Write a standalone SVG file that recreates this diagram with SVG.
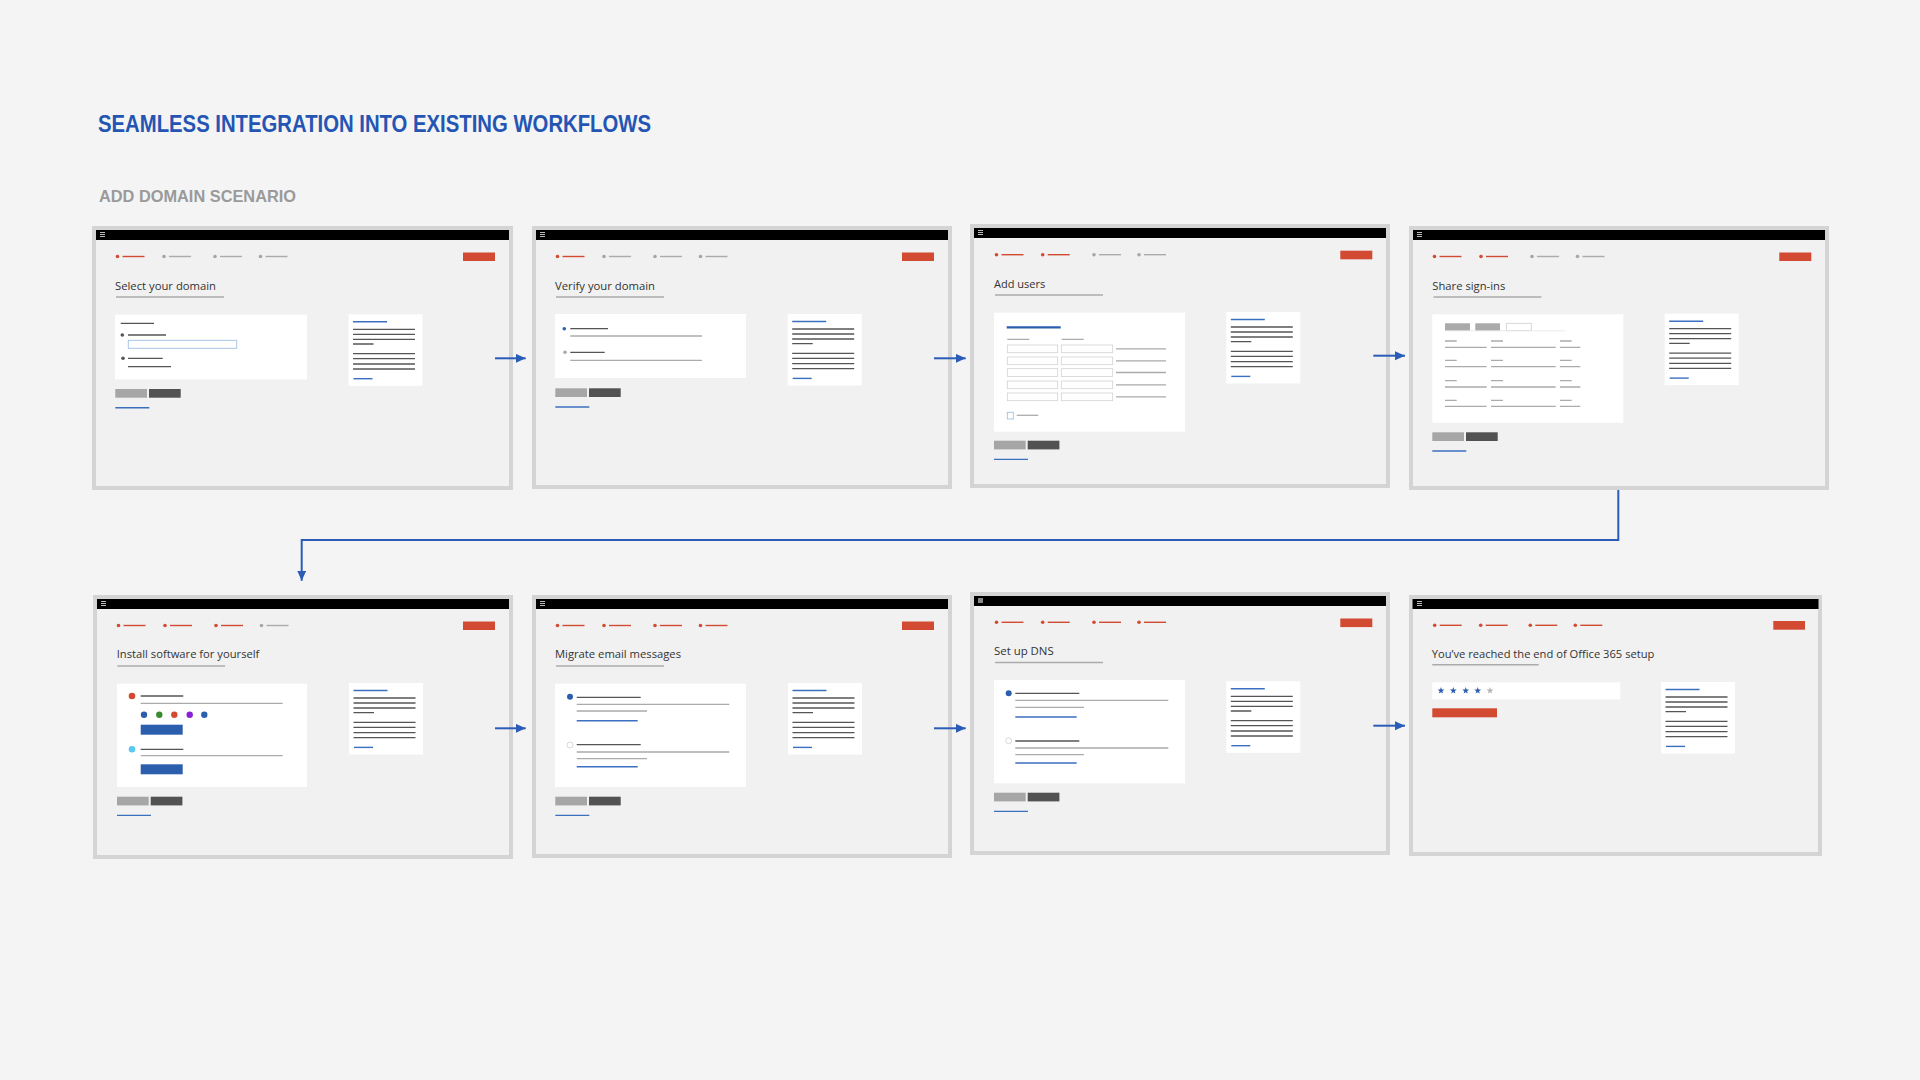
<svg xmlns="http://www.w3.org/2000/svg" xmlns:xlink="http://www.w3.org/1999/xlink" width="1920" height="1080" viewBox="0 0 1920 1080">
<style>
.frame{fill:#f1f1f1;stroke:#d4d4d4;stroke-width:4}
.bar{fill:#000}
.card{fill:#fff}
.dk{stroke:#555;stroke-width:1.3;fill:none}
.gy{stroke:#ababab;stroke-width:1.3;fill:none}
.bl{stroke:#3b6fc0;stroke-width:1.4;fill:none}
.red{fill:#d24a32}
.sr{stroke:#d24a32;stroke-width:1.4}
.sg{stroke:#ababab;stroke-width:1.4}
.ttl{font-family:"Open Sans","Noto Sans",sans-serif;font-size:11.5px;fill:#333}
.ul{stroke:#ababab;stroke-width:1.5}
.b1{fill:#a6a6a6}
.b2{fill:#525252}
.box{fill:#fff;stroke:#d2d2d2;stroke-width:0.8}
.conn{fill:none;stroke:#2a5cb8;stroke-width:2}
</style>
<defs>
<marker id="ah" markerUnits="userSpaceOnUse" markerWidth="10" markerHeight="10" refX="10" refY="4.5" orient="auto">
<path d="M0,0 L10,4.5 L0,9 z" fill="#2a5cb8"/>
</marker>
<g id="ham"><rect x="8" y="6" width="5" height="1" fill="#bbb"/><rect x="8" y="8" width="5" height="1" fill="#bbb"/><rect x="8" y="10" width="5" height="1" fill="#bbb"/></g>
<g id="str"><circle r="1.8" fill="#d24a32"/><path class="sr" d="M5,0H27"/></g>
<g id="stg"><circle r="1.8" fill="#a6a6a6"/><path class="sg" d="M5,0H27"/></g>
<g id="help">
<rect class="card" width="74" height="71.5"/>
<path class="bl" d="M4.5,7.5H38.5"/>
<path class="dk" d="M4.5,15H66.5M4.5,20H66.5M4.5,25H66.5M4.5,29.7H25M4.5,39.4H66.5M4.5,44.4H66.5M4.5,49.7H66.5M4.5,54.7H66.5"/>
<path class="bl" d="M5,64.4H24"/>
</g>
<g id="btns">
<rect class="b1" width="31.7" height="8.7"/>
<rect class="b2" x="33.7" width="31.7" height="8.7"/>
<path class="bl" d="M0,18.7H34"/>
</g>
<path id="star" d="M0,-3.6 L0.846,-1.165 L3.424,-1.112 L1.369,0.445 L2.116,2.912 L0,1.44 L-2.116,2.912 L-1.369,0.445 L-3.424,-1.112 L-0.846,-1.165 z"/>
</defs>

<rect width="1920" height="1080" fill="#f4f4f4"/>

<text x="98" y="131.5" font-family="'Liberation Sans',Arial,sans-serif" font-weight="bold" font-size="23" fill="#2455b3" textLength="553" lengthAdjust="spacingAndGlyphs">SEAMLESS INTEGRATION INTO EXISTING WORKFLOWS</text>
<text x="99" y="202" font-family="'Liberation Sans',Arial,sans-serif" font-weight="bold" font-size="16.5" fill="#9a9a9a" textLength="197" lengthAdjust="spacingAndGlyphs">ADD DOMAIN SCENARIO</text>

<!-- Panel 1 -->
<g id="p1-select-domain" transform="translate(92,226)">
<rect class="frame" x="2" y="2" width="417" height="260"/>
<rect class="bar" x="4" y="4" width="413" height="10"/>
<use href="#ham"/>
<use href="#str" x="25.5" y="30.5"/><use href="#stg" x="72" y="30.5"/><use href="#stg" x="123" y="30.5"/><use href="#stg" x="168.5" y="30.5"/>
<rect class="red" x="371" y="26.5" width="32" height="8.5"/>
<text class="ttl" x="23" y="64" textLength="101" lengthAdjust="spacingAndGlyphs">Select your domain</text>
<path class="ul" d="M24,71H132"/>
<rect class="card" x="23" y="88.7" width="192" height="64.6"/>
<path class="dk" d="M28.7,97.3H62"/>
<circle cx="30.3" cy="109" r="1.8" fill="#555"/><path class="dk" d="M36,109H74"/>
<rect x="36.3" y="114.3" width="108.4" height="8" fill="#fff" stroke="#9fc2e8" stroke-width="0.9"/>
<circle cx="31" cy="132.3" r="1.8" fill="#555"/><path class="dk" d="M36,132.3H70.7M36,140.7H79"/>
<use href="#btns" x="23.3" y="163"/>
<use href="#help" x="256.5" y="88.3"/>
</g>

<!-- Panel 2 -->
<g id="p2-verify-domain" transform="translate(532,226)">
<rect class="frame" x="2" y="2" width="416" height="259"/>
<rect class="bar" x="4" y="4" width="412" height="10"/>
<use href="#ham"/>
<use href="#str" x="25.5" y="30.5"/><use href="#stg" x="72" y="30.5"/><use href="#stg" x="123" y="30.5"/><use href="#stg" x="168.5" y="30.5"/>
<rect class="red" x="370" y="26.5" width="32" height="8.5"/>
<text class="ttl" x="23" y="64" textLength="100" lengthAdjust="spacingAndGlyphs">Verify your domain</text>
<path class="ul" d="M24,71H132"/>
<rect class="card" x="23" y="88" width="191" height="64"/>
<circle cx="32.3" cy="102.7" r="1.8" fill="#2b5fad"/><path class="dk" d="M38.3,102.7H76"/><path class="gy" d="M38.3,110H170"/>
<circle cx="33" cy="126.3" r="1.8" fill="#aaa"/><path class="dk" d="M38.3,126.3H72.7"/><path class="gy" d="M38.3,134.3H170"/>
<use href="#btns" x="23.3" y="162.3"/>
<use href="#help" x="255.7" y="88"/>
</g>

<!-- Panel 3 -->
<g id="p3-add-users" transform="translate(970,224)">
<rect class="frame" x="2" y="2" width="416" height="260"/>
<rect class="bar" x="4" y="4" width="412" height="10"/>
<use href="#ham"/>
<use href="#str" x="26.5" y="30.7"/><use href="#str" x="72.7" y="30.7"/><use href="#stg" x="124" y="30.7"/><use href="#stg" x="169" y="30.7"/>
<rect class="red" x="370.3" y="26.7" width="32" height="8.6"/>
<text class="ttl" x="24" y="63.7" textLength="51.3" lengthAdjust="spacingAndGlyphs">Add users</text>
<path class="ul" d="M25,71H133"/>
<rect class="card" x="24" y="88.7" width="191" height="119"/>
<path d="M36.7,103.3H90.7" stroke="#2b5fad" stroke-width="2.2"/>
<path class="gy" d="M37.3,115.3H59.3M91.7,115.3H113.7"/>
<rect class="box" x="37.3" y="121" width="50.4" height="7.7"/><rect class="box" x="91.3" y="121" width="51.4" height="7.7"/>
<rect class="box" x="37.3" y="133" width="50.4" height="7.7"/><rect class="box" x="91.3" y="133" width="51.4" height="7.7"/>
<rect class="box" x="37.3" y="144.7" width="50.4" height="7.7"/><rect class="box" x="91.3" y="144.7" width="51.4" height="7.7"/>
<rect class="box" x="37.3" y="157" width="50.4" height="7.7"/><rect class="box" x="91.3" y="157" width="51.4" height="7.7"/>
<rect class="box" x="37.3" y="169" width="50.4" height="7.7"/><rect class="box" x="91.3" y="169" width="51.4" height="7.7"/>
<path class="gy" d="M146,124.8H196M146,136.8H196M146,148.5H196M146,160.8H196M146,172.8H196"/>
<rect x="37.3" y="188.3" width="6" height="6.7" fill="#fff" stroke="#9fc2e8" stroke-width="0.9"/>
<path class="gy" d="M46.7,191.3H68.3"/>
<use href="#btns" x="24" y="216.7"/>
<use href="#help" x="256.3" y="88"/>
</g>

<!-- Panel 4 -->
<g id="p4-share-signins" transform="translate(1409,226)">
<rect class="frame" x="2" y="2" width="416" height="260"/>
<rect class="bar" x="4" y="4" width="412" height="10"/>
<use href="#ham"/>
<use href="#str" x="25.5" y="30.5"/><use href="#str" x="72" y="30.5"/><use href="#stg" x="123" y="30.5"/><use href="#stg" x="168.5" y="30.5"/>
<rect class="red" x="370.3" y="26.5" width="32" height="8.5"/>
<text class="ttl" x="23.3" y="64" textLength="73" lengthAdjust="spacingAndGlyphs">Share sign-ins</text>
<path class="ul" d="M24.5,71H132.5"/>
<rect class="card" x="23.3" y="88.3" width="191" height="108.4"/>
<rect x="36" y="97.3" width="25" height="7.4" fill="#aaa"/>
<rect x="66.3" y="97.3" width="24.7" height="7.4" fill="#aaa"/>
<rect x="97.3" y="97.3" width="25" height="7.4" fill="#fff" stroke="#cfcfcf" stroke-width="0.8"/>
<path d="M36,104.8H155.7" stroke="#e6e6e6" stroke-width="0.8"/>
<path class="gy" d="M36,115H47.7M82,115H94M151,115H162.7M36,121.3H77.7M82,121.3H146.7M151,121.3H171.3"/>
<path class="gy" d="M36,134.3H47.7M82,134.3H94M151,134.3H162.7M36,140.7H77.7M82,140.7H146.7M151,140.7H171.3"/>
<path class="gy" d="M36,154.7H47.7M82,154.7H94M151,154.7H162.7M36,161H77.7M82,161H146.7M151,161H171.3"/>
<path class="gy" d="M36,174.3H47.7M82,174.3H94M151,174.3H162.7M36,180.3H77.7M82,180.3H146.7M151,180.3H171.3"/>
<use href="#btns" x="23.3" y="206.3"/>
<use href="#help" x="255.7" y="87.7"/>
</g>

<!-- Panel 5 -->
<g id="p5-install-software" transform="translate(93,595)">
<rect class="frame" x="2" y="2" width="416" height="260"/>
<rect class="bar" x="4" y="4" width="412" height="10"/>
<use href="#ham"/>
<use href="#str" x="25.5" y="30.5"/><use href="#str" x="72" y="30.5"/><use href="#str" x="123" y="30.5"/><use href="#stg" x="168.5" y="30.5"/>
<rect class="red" x="370" y="26.5" width="32" height="8.5"/>
<text class="ttl" x="23.7" y="63.3" textLength="142.7" lengthAdjust="spacingAndGlyphs">Install software for yourself</text>
<path class="ul" d="M24.5,71H132"/>
<rect class="card" x="24" y="88.7" width="190" height="103.3"/>
<circle cx="39" cy="101" r="3.3" fill="#d24a32"/><path class="dk" d="M47.7,101H90.3"/><path class="gy" d="M47.7,108.3H189.7"/>
<circle cx="51" cy="119.7" r="3.2" fill="#2b5fad"/>
<circle cx="66.3" cy="119.7" r="3.2" fill="#3a8a2e"/>
<circle cx="81.3" cy="119.7" r="3.2" fill="#d24a32"/>
<circle cx="96.7" cy="119.7" r="3.2" fill="#8a1fd6"/>
<circle cx="111.3" cy="119.7" r="3.2" fill="#2b5fad"/>
<rect x="47.7" y="129.7" width="42" height="10" fill="#2b5fad"/>
<circle cx="39" cy="154.3" r="3.3" fill="#5bc8ef"/><path class="dk" d="M47.7,154.3H90.3"/><path class="gy" d="M47.7,160.7H189.7"/>
<rect x="47.7" y="169.3" width="42" height="10" fill="#2b5fad"/>
<use href="#btns" x="24" y="201.7"/>
<use href="#help" x="256" y="88"/>
</g>

<!-- Panel 6 -->
<g id="p6-migrate-email" transform="translate(532,595)">
<rect class="frame" x="2" y="2" width="416" height="259"/>
<rect class="bar" x="4" y="4" width="412" height="10"/>
<use href="#ham"/>
<use href="#str" x="25.5" y="30.5"/><use href="#str" x="72" y="30.5"/><use href="#str" x="123" y="30.5"/><use href="#str" x="168.5" y="30.5"/>
<rect class="red" x="370" y="26.5" width="32" height="8.5"/>
<text class="ttl" x="23" y="63.3" textLength="126" lengthAdjust="spacingAndGlyphs">Migrate email messages</text>
<path class="ul" d="M24,71H132"/>
<rect class="card" x="23" y="88.7" width="191" height="103.3"/>
<circle cx="38" cy="101.7" r="3" fill="#2b5fad"/>
<path class="dk" d="M44.7,102.3H108.7M44.7,149.7H108.7"/>
<path class="gy" d="M44.7,109.3H197.3M44.7,116H115M44.7,157H197.3M44.7,163.7H115"/>
<path class="bl" d="M44.7,125.7H105.7M44.7,171.7H105.7"/>
<circle cx="38" cy="150" r="3" fill="#fff" stroke="#cfcfcf" stroke-width="0.8"/>
<use href="#btns" x="23.3" y="201.7"/>
<use href="#help" x="256" y="88"/>
</g>

<!-- Panel 7 -->
<g id="p7-setup-dns" transform="translate(970,592)">
<rect class="frame" x="2" y="2" width="416" height="259"/>
<rect class="bar" x="4" y="4" width="412" height="10"/>
<rect x="8" y="6" width="5" height="5" fill="#888"/>
<use href="#str" x="26.5" y="30.3"/><use href="#str" x="72.7" y="30.3"/><use href="#str" x="124" y="30.3"/><use href="#str" x="169" y="30.3"/>
<rect class="red" x="370.3" y="26.5" width="32" height="8.6"/>
<text class="ttl" x="24" y="63" textLength="59.7" lengthAdjust="spacingAndGlyphs">Set up DNS</text>
<path class="ul" d="M25,70.5H133"/>
<rect class="card" x="24" y="88" width="191" height="103.3"/>
<circle cx="38.7" cy="101.3" r="3" fill="#2b5fad"/>
<path class="dk" d="M45.3,101.3H109.3M45.3,149H109.3"/>
<path class="gy" d="M45.3,108.3H198.3M45.3,115.3H114M45.3,156H198.3M45.3,162.7H114"/>
<path class="bl" d="M45.3,125H106.7M45.3,171H106.7"/>
<circle cx="38.7" cy="148.7" r="3" fill="#fff" stroke="#cfcfcf" stroke-width="0.8"/>
<use href="#btns" x="24" y="200.7"/>
<use href="#help" x="256.3" y="89.3"/>
</g>

<!-- Panel 8 -->
<g id="p8-end-of-setup" transform="translate(1409,595)">
<rect class="frame" x="2" y="2" width="409" height="257"/>
<rect class="bar" x="3.5" y="4" width="406" height="10"/>
<use href="#ham"/>
<use href="#str" x="25.7" y="30.3"/><use href="#str" x="71.7" y="30.3"/><use href="#str" x="121.3" y="30.3"/><use href="#str" x="166.3" y="30.3"/>
<rect class="red" x="364.3" y="26" width="31.7" height="8.7"/>
<text class="ttl" x="22.7" y="62.7" textLength="222.7" lengthAdjust="spacingAndGlyphs">You’ve reached the end of Office 365 setup</text>
<path class="ul" d="M23.3,69.7H129.7"/>
<rect class="card" x="23.3" y="87.3" width="188" height="17"/>
<use href="#star" x="32" y="95.7" fill="#2b5fad"/>
<use href="#star" x="44.3" y="95.7" fill="#2b5fad"/>
<use href="#star" x="56.7" y="95.7" fill="#2b5fad"/>
<use href="#star" x="68.7" y="95.7" fill="#2b5fad"/>
<use href="#star" x="81" y="95.7" fill="#b5b5b5"/>
<rect class="red" x="23.3" y="113.3" width="64.7" height="9"/>
<use href="#help" x="252" y="87"/>
</g>

<g id="connectors">
<path class="conn" d="M495,358.3H525.7" marker-end="url(#ah)"/>
<path class="conn" d="M934,358.3H965.7" marker-end="url(#ah)"/>
<path class="conn" d="M1373.3,355.7H1405" marker-end="url(#ah)"/>
<path class="conn" d="M1618.3,490V540H301.7V580.7" marker-end="url(#ah)"/>
<path class="conn" d="M495,728.3H525.7" marker-end="url(#ah)"/>
<path class="conn" d="M934,728.3H965.7" marker-end="url(#ah)"/>
<path class="conn" d="M1373.3,725.7H1405" marker-end="url(#ah)"/>
</g>
</svg>
